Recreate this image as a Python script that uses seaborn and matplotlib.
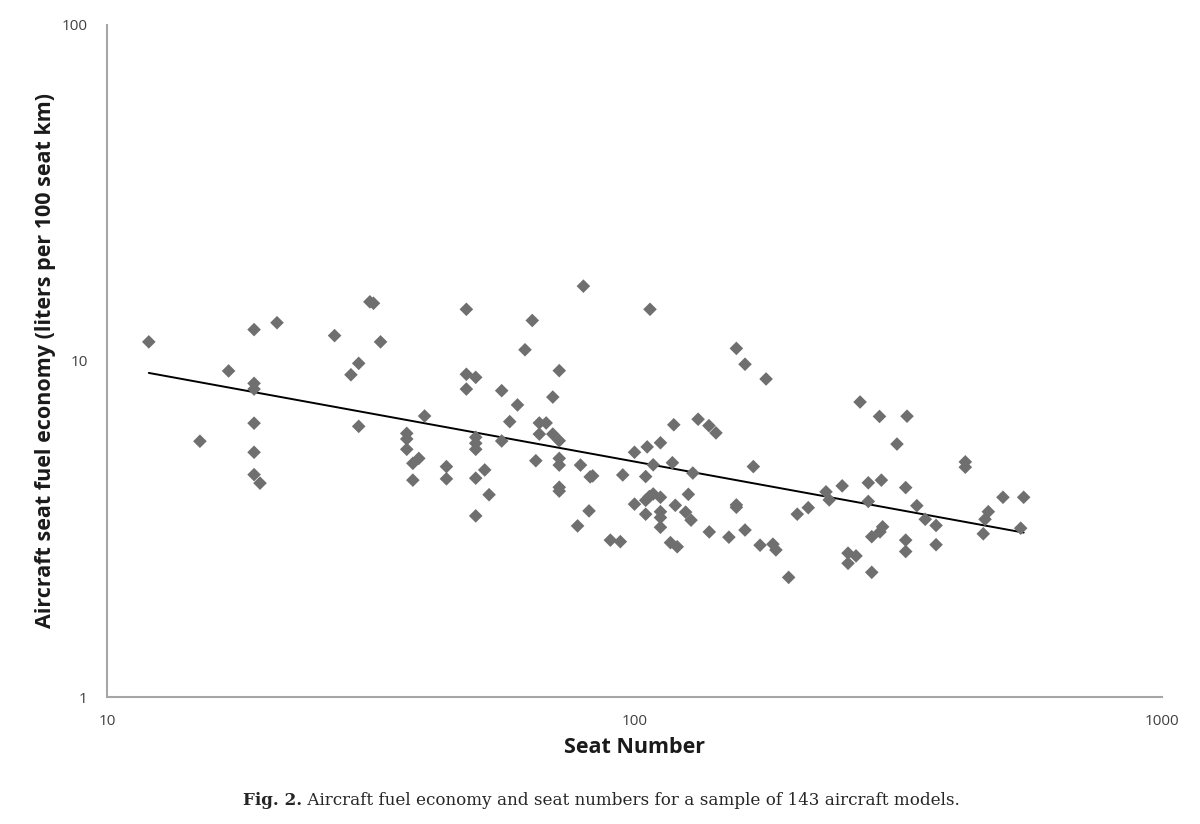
import numpy as np
import pandas as pd
import matplotlib
matplotlib.use("Agg")
import matplotlib.pyplot as plt
import seaborn as sns

sns.set_style("white")
plt.rcParams["font.family"] = ["Open Sans", "DejaVu Sans"]

# ==============================
# DATA
# ==============================
seats = [
    12, 15, 17, 19, 19, 19, 19, 19, 19, 19.5, 21, 27, 29, 30, 30, 31.5, 32, 33,
    37, 37, 37, 38, 39, 38, 40, 44, 44, 48, 48, 50, 48, 50, 50, 50, 50, 50,
    52, 53, 56, 56, 58, 60, 62, 64, 65, 66, 68, 66, 70, 70, 72, 72, 72, 72,
    72, 72, 78, 79, 80, 82, 82.4, 83.3, 90, 94, 95, 100, 100, 105.7, 105, 105,
    105, 107, 108.5, 108.5, 106.7, 112, 112, 112, 112, 112, 117, 120.5, 118,
    118.7, 119.5, 125, 126.5, 128, 129, 132, 138.4, 142.7, 138.6, 151, 156,
    156, 156, 162, 162, 168, 173, 177.6, 183, 185.4, 196, 203.5, 213.5, 230.7,
    234, 247.6, 254, 263, 254, 267.7, 277.5, 277.5, 281.7, 281.7, 291.4, 293.8,
    292, 295.4, 314.5, 328.6, 326.7, 326.7, 326.7, 343, 355.8, 373, 373, 423.8,
    423.8, 458.4, 461.9, 468.6, 499.5, 546.8, 539.7,
]
fuel = [
    11.4, 5.77, 9.34, 12.4, 8.58, 8.25, 6.53, 5.35, 4.59, 4.33, 13.0, 11.9, 9.1,
    9.84, 6.39, 15.0, 14.85, 11.4, 6.09, 5.86, 5.46, 4.96, 5.13, 4.42, 6.86,
    4.85, 4.46, 14.25, 9.13, 8.94, 8.25, 5.93, 5.69, 5.46, 4.48, 3.46, 4.74,
    4.0, 8.16, 5.78, 6.6, 7.4, 10.8, 13.2, 5.05, 6.54, 6.54, 6.06, 7.81, 6.06,
    9.36, 5.79, 5.13, 4.9, 4.21, 4.1, 3.23, 4.9, 16.7, 3.58, 4.52, 4.55, 2.93,
    2.9, 4.58, 5.35, 3.75, 5.55, 4.53, 3.85, 3.5, 14.25, 4.91, 4.02, 3.95, 5.71,
    3.93, 3.56, 3.42, 3.2, 2.88, 2.8, 4.98, 6.46, 3.72, 3.55, 4.01, 3.36, 4.64,
    6.71, 6.42, 6.11, 3.1, 2.99, 3.73, 3.67, 10.9, 9.78, 3.14, 4.85, 2.83, 8.84,
    2.85, 2.74, 2.27, 3.5, 3.66, 4.08, 3.86, 4.25, 2.68, 2.63, 2.5, 7.55, 4.34,
    3.82, 3.0, 2.35, 6.84, 4.42, 3.1, 3.21, 5.66, 6.85, 4.2, 2.93, 2.71, 3.71,
    3.38, 3.24, 2.84, 5.01, 4.83, 3.06, 3.38, 3.56, 3.93, 3.93, 3.18,
]

df = pd.DataFrame({"seats": seats, "fuel": fuel})

# power-law trendline (straight line in log-log), like the Excel trendline
b, a = np.polyfit(np.log10(df["seats"]), np.log10(df["fuel"]), 1)
x_line = np.linspace(df["seats"].min(), df["seats"].max(), 200)
trend = pd.DataFrame({"seats": x_line, "fuel": 10 ** a * x_line ** b})

# ==============================
# PLOT
# ==============================
fig = plt.figure(figsize=(12, 8.24), dpi=100)
ax = fig.add_axes([0.0892, 0.1541, 0.8791, 0.8156])

sns.scatterplot(data=df, x="seats", y="fuel", ax=ax, marker="D", s=48,
                color="#6f6f6f", edgecolor="none", linewidth=0, zorder=3)
sns.lineplot(data=trend, x="seats", y="fuel", ax=ax, color="black",
             linewidth=1.4, zorder=2)

ax.set_xscale("log")
ax.set_yscale("log")
ax.set_xlim(10, 1000)
ax.set_ylim(1, 100)
ax.set_xticks([10, 100, 1000])
ax.set_xticklabels(["10", "100", "1000"])
ax.set_yticks([1, 10, 100])
ax.set_yticklabels(["1", "10", "100"])
ax.minorticks_off()
ax.tick_params(axis="x", length=0, labelsize=11, colors="#404040", pad=12)
ax.tick_params(axis="y", length=0, labelsize=11, colors="#404040", pad=14)

for side in ["top", "right"]:
    ax.spines[side].set_visible(False)
for side in ["left", "bottom"]:
    ax.spines[side].set_color("#a6a6a6")
    ax.spines[side].set_linewidth(1.5)

ax.set_xlabel("Seat Number", fontsize=15.5, fontweight="bold", color="#1a1a1a")
ax.xaxis.set_label_coords(0.5, -0.059)
ax.set_ylabel("Aircraft seat fuel economy (liters per 100 seat km)", fontsize=15.5,
              fontweight="bold", color="#1a1a1a")
ax.yaxis.set_label_coords(-0.048, 0.5)

serif = ["DejaVu Serif", "Liberation Serif"]
fig_lbl = fig.text(243 / 1200, 0.029, "Fig. 2.", ha="left", va="center",
                   fontsize=12.1, fontweight="bold", family=serif)
fig.canvas.draw()
bb = fig_lbl.get_window_extent()
fig.text(bb.x1 / fig.bbox.width, 0.029,
         " Aircraft fuel economy and seat numbers for a sample of 143 aircraft models.",
         ha="left", va="center", fontsize=12.1, family=serif)

fig.savefig("out.png", dpi=100)
